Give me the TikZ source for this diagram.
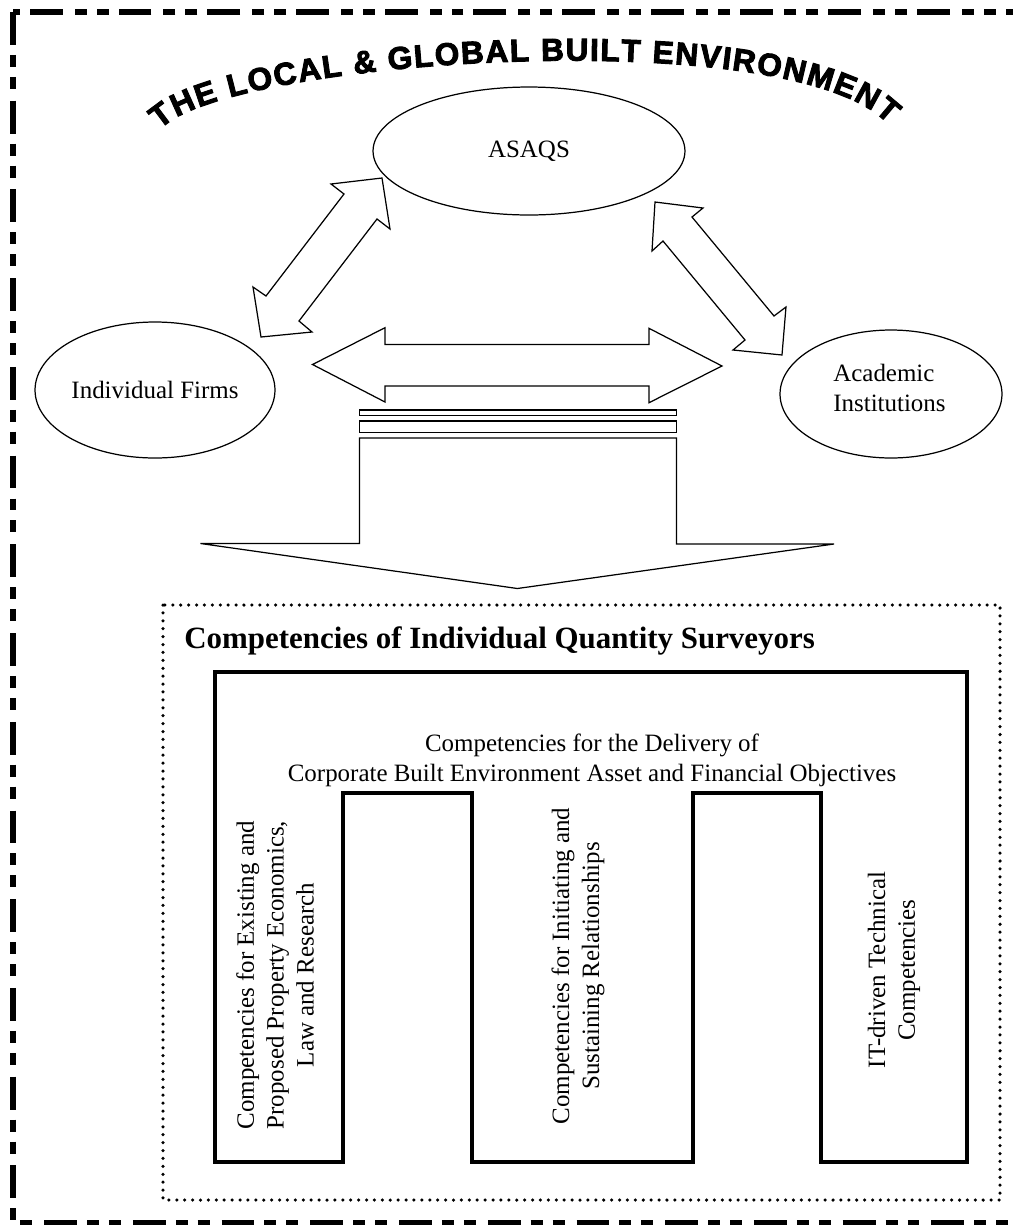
\documentclass[tikz,border=0pt]{standalone}
\usepackage{fontspec}
\setmainfont{Liberation Serif}
\newfontfamily\archfont[FakeBold=3]{Liberation Sans}
\usepackage{tikz}
\usetikzlibrary{shapes.geometric, decorations.text, positioning}
\newcommand\archstyle{\archfont\bfseries\fontsize{18pt}{20pt}\selectfont}

\begin{document}
\begin{tikzpicture}[
    x=0.02cm, y=-0.02cm,
    every node/.style={font=\fontsize{14.2pt}{17pt}\selectfont, inner sep=0pt},
    org/.style={
        ellipse,
        draw=black,
        line width=0.7pt
    },
    blockarrow/.style={draw=black, line width=0.7pt, line join=miter},
    outerframe/.style={
        draw=black,
        line width=3.4pt,
        dash pattern=on 18.7pt off 5.7pt on 6.8pt off 5.7pt on 6.8pt off 6.8pt
    },
    dotframe/.style={
        draw=black,
        line width=2pt,
        line cap=round,
        dash pattern=on 0pt off 4.5pt
    },
    comb/.style={draw=black, line width=2.5pt, line join=miter},
    column/.style={rotate=90, align=center}
]
    \useasboundingbox (0,0) rectangle (1012,1225);

    % frame and title
    \draw[outerframe] (13,12) rectangle (1045,1223);
    \path[decorate, decoration={text along path, text align=fit to path,
        text={|\archstyle|THE LOCAL {\&} GLOBAL BUILT ENVIRONMENT}}]
        (160,130) .. controls (220,60) and (790,20) .. (888,124);

    % the three bodies
    \node[org, minimum width=6.24cm, minimum height=2.56cm] (asaqs) at (529,151) {ASAQS};
    \node[org, minimum width=4.8cm, minimum height=2.72cm] (firms) at (155,390) {Individual Firms};
    \node[org, minimum width=4.44cm, minimum height=2.56cm] (academic) at (891,394) {};
    \node[align=left, anchor=west] (academictext) at (833,388) {Academic\\Institutions};

    \draw[blockarrow] (382,178) -- (390,229) -- (377,219) -- (299,321) -- (312,332)
        -- (261,337) -- (253,287) -- (266,296) -- (344,194) -- (331,184) -- cycle;
    \draw[blockarrow] (655,202) -- (703,208) -- (692,217) -- (774,316) -- (786,307)
        -- (782,355) -- (733,350) -- (745,340) -- (663,241) -- (652,251) -- cycle;
    \draw[blockarrow] (312.5,364.5) -- (385,327.7) -- (385,344.5) -- (649,344.5) -- (649,328.3)
        -- (722,366) -- (649,402.7) -- (649,386) -- (385,386) -- (385,402) -- cycle;

    % arrow down to the competencies
    \draw[blockarrow] (359.5,410) rectangle (676.5,415.7);
    \draw[blockarrow] (359.5,421) rectangle (676.5,432.5);
    \draw[blockarrow] (359.5,438) -- (676.5,438) -- (676.5,544) -- (834,544)
        -- (517.4,588.5) -- (200.5,543.5) -- (359.5,543.5) -- cycle;

    \draw[dotframe] (163,605) rectangle (1000,1200);
    \node[anchor=base west, font=\fontsize{17.6pt}{20pt}\selectfont\bfseries] (heading) at (184,648)
        {Competencies of Individual Quantity Surveyors};

    \draw[comb] (215,672) -- (967,672) -- (967,1162) -- (821,1162) -- (821,793) -- (693,793)
        -- (693,1162) -- (472,1162) -- (472,793) -- (343,793) -- (343,1162) -- (215,1162) -- cycle;

    \node[align=center] (corporate) at (592,760)
        {Competencies for the Delivery of\\Corporate Built Environment Asset and Financial Objectives};
    \node[column] (economics) at (275,975)
        {Competencies for Existing and\\Proposed Property Economics,\\Law and Research};
    \node[column] (relations) at (578,966)
        {Competencies for Initiating and\\Sustaining Relationships};
    \node[column] (technical) at (894,970)
        {IT-driven Technical\\Competencies};
\end{tikzpicture}
\end{document}
